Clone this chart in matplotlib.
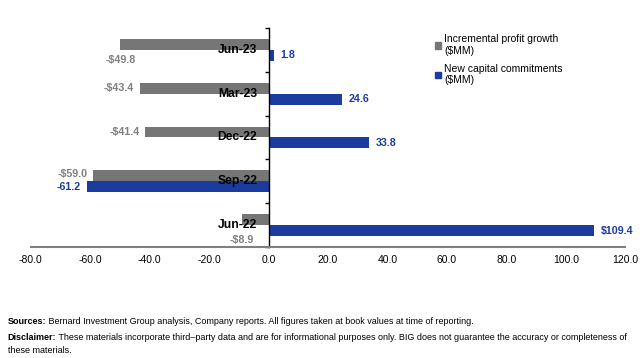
import numpy as np
import matplotlib.pyplot as plt
from matplotlib.patches import Patch

plt.rcParams['font.family'] = ['Liberation Sans', 'DejaVu Sans']

# Dane (od góry do dołu)
quarters = ['Jun-23', 'Mar-23', 'Dec-22', 'Sep-22', 'Jun-22']
profit_growth = [-49.8, -43.4, -41.4, -59.0, -8.9]
capital_commitments = [1.8, 24.6, 33.8, -61.2, 109.4]
profit_labels = ['-$49.8', '-$43.4', '-$41.4', '-$59.0', '-$8.9']
capital_labels = ['1.8', '24.6', '33.8', '-61.2', '$109.4']

gray = '#767676'
blue = '#1b3c9e'

fig = plt.figure(figsize=(6.4, 3.58), dpi=100)
ax = fig.add_axes([0.048, 0.31, 0.929, 0.612])

y = np.arange(len(quarters))[::-1]
h = 0.25
ax.barh(y + h / 2, profit_growth, height=h, color=gray, zorder=2)
ax.barh(y - h / 2, capital_commitments, height=h, color=blue, zorder=2)

ax.set_xlim(-80, 120)
ax.set_ylim(-0.5, len(quarters) - 0.5)
ticks = np.arange(-80, 121, 20)
ax.set_xticks(ticks)
ax.set_xticklabels([f'{v:.1f}' for v in ticks], fontsize=7.5)
ax.tick_params(axis='x', length=0, pad=6)

# oś pionowa w zerze
ax.spines['left'].set_position(('data', 0))
ax.spines['left'].set_color('black')
ax.spines['left'].set_linewidth(1)
ax.set_yticks(np.arange(-0.5, len(quarters), 1))
ax.tick_params(axis='y', length=3, width=1, labelleft=False, direction='out')
ax.spines['bottom'].set_color('#808080')
ax.spines['bottom'].set_linewidth(1.5)
ax.spines['top'].set_visible(False)
ax.spines['right'].set_visible(False)

# etykiety kwartałów
for yi, q in zip(y, quarters):
    ax.annotate(q, xy=(0, yi), xytext=(-8, 0), textcoords='offset points',
                ha='right', va='center', fontsize=8.7, fontweight='bold', zorder=4)

# etykiety wartości – szare
gray_pos = [((0, -11), 'center'), ((-4, 0), 'right'), ((-4, 0), 'right'),
            ((-4, 1), 'right'), ((0, -15), 'center')]
for yi, v, lab, (off, ha) in zip(y, profit_growth, profit_labels, gray_pos):
    ax.annotate(lab, xy=(v, yi + h / 2), xytext=off, textcoords='offset points',
                ha=ha, va='center', fontsize=7.7, fontweight='bold', color='#7f7f7f')

# etykiety wartości – niebieskie
for yi, v, lab in zip(y, capital_commitments, capital_labels):
    off = 5 if v > 0 else -4
    ax.annotate(lab, xy=(v, yi - h / 2), xytext=(off, 0), textcoords='offset points',
                ha='left' if v > 0 else 'right', va='center', fontsize=7.7,
                fontweight='bold', color=blue)

# legenda
handles = [Patch(color=gray, label='Incremental profit growth\n($MM)'),
           Patch(color=blue, label='New capital commitments\n($MM)')]
fig.legend(handles=handles, loc='upper left', bbox_to_anchor=(0.665, 0.93),
           frameon=False, fontsize=7.5, handlelength=0.6, handleheight=0.6,
           handletextpad=0.3, labelspacing=0.75)

# przypisy
fs = 6.45
t1 = fig.text(0.012, 0.103, 'Sources:', fontsize=fs, fontweight='bold', va='center')
ax.annotate(' Bernard Investment Group analysis, Company reports. All figures taken '
            'at book values at time of reporting.', xy=(1, 0.5), xycoords=t1,
            fontsize=fs, va='center', annotation_clip=False)
t2 = fig.text(0.012, 0.056, 'Disclaimer:', fontsize=fs, fontweight='bold', va='center')
ax.annotate(' These materials incorporate third\u2013party data and are for informational '
            'purposes only. BIG does not guarantee the accuracy or completeness of',
            xy=(1, 0.5), xycoords=t2, fontsize=fs, va='center', annotation_clip=False)
fig.text(0.012, 0.022, 'these materials.', fontsize=fs, va='center')

fig.savefig('out.png', dpi=100)
